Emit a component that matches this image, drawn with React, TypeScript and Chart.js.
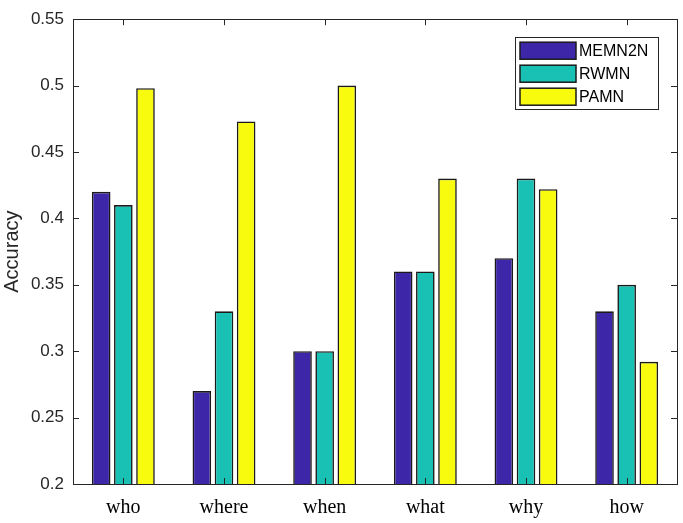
import { useEffect, useRef } from "react";
import { Chart, registerables } from "chart.js";

Chart.register(...registerables);

const categories = ["who", "where", "when", "what", "why", "how"];
const memn2n = [0.42, 0.27, 0.3, 0.36, 0.37, 0.33];
const rwmn = [0.41, 0.33, 0.3, 0.36, 0.43, 0.35];
const pamn = [0.498, 0.473, 0.5, 0.43, 0.422, 0.292];

const AXIS = "#262626";

// MATLAB style box: mirrored inward ticks on all four sides
const boxTicks = {
  id: "boxTicks",
  afterDatasetsDraw(chart: Chart) {
    const { ctx, chartArea: a } = chart;
    const x = chart.scales.x;
    const y = chart.scales.y;
    const len = 6;
    ctx.save();
    ctx.strokeStyle = AXIS;
    ctx.lineWidth = 1;
    ctx.beginPath();
    x.ticks.forEach((_, i) => {
      const px = Math.round(x.getPixelForTick(i)) + 0.5;
      ctx.moveTo(px, a.bottom);
      ctx.lineTo(px, a.bottom - len);
      ctx.moveTo(px, a.top);
      ctx.lineTo(px, a.top + len);
    });
    y.ticks.forEach((t) => {
      const py = Math.round(y.getPixelForValue(t.value)) + 0.5;
      ctx.moveTo(a.left, py);
      ctx.lineTo(a.left + len, py);
      ctx.moveTo(a.right, py);
      ctx.lineTo(a.right - len, py);
    });
    ctx.stroke();
    ctx.strokeRect(
      Math.round(a.left) + 0.5,
      Math.round(a.top) + 0.5,
      Math.round(a.right - a.left),
      Math.round(a.bottom - a.top)
    );
    ctx.restore();
  },
};

const boxLegend = {
  id: "boxLegend",
  afterDraw(chart: Chart) {
    const { ctx, chartArea: a } = chart;
    const w = 143;
    const h = 72;
    const left = a.right - 19 - w;
    const top = a.top + 18;
    ctx.save();
    ctx.fillStyle = "#ffffff";
    ctx.fillRect(left, top, w, h);
    ctx.strokeStyle = AXIS;
    ctx.lineWidth = 1;
    ctx.strokeRect(Math.round(left) + 0.5, Math.round(top) + 0.5, w, h);
    ctx.font = "16px 'Liberation Sans', Arial, sans-serif";
    ctx.textBaseline = "middle";
    chart.data.datasets.forEach((ds, i) => {
      const py = top + 5 + i * 23;
      ctx.fillStyle = ds.backgroundColor as string;
      ctx.fillRect(left + 5, py, 56, 17);
      ctx.strokeStyle = "#1a1a1a";
      ctx.lineWidth = 1.5;
      ctx.strokeRect(left + 5, py, 56, 17);
      ctx.fillStyle = "#000000";
      ctx.fillText(ds.label as string, left + 64, py + 9);
    });
    ctx.restore();
  },
};

export default function App() {
  const canvasRef = useRef<HTMLCanvasElement>(null);
  const chartRef = useRef<Chart | null>(null);

  useEffect(() => {
    document.body.style.margin = "0";
    if (!canvasRef.current) return;
    if (chartRef.current) chartRef.current.destroy();

    const bar = (label: string, data: number[], color: string) => ({
      label,
      data,
      backgroundColor: color,
      borderColor: "#1a1a1a",
      borderWidth: 1.6,
      borderSkipped: false as const,
      categoryPercentage: 0.66,
      barPercentage: 0.84,
    });

    chartRef.current = new Chart(canvasRef.current, {
      type: "bar",
      data: {
        labels: categories,
        datasets: [
          bar("MEMN2N", memn2n, "#3e26a8"),
          bar("RWMN", rwmn, "#19c0b4"),
          bar("PAMN", pamn, "#f9fb0e"),
        ],
      },
      options: {
        animation: false,
        responsive: false,
        layout: { padding: { top: 8, right: 6, left: 0, bottom: 0 } },
        plugins: {
          legend: { display: false },
          tooltip: { enabled: false },
        },
        scales: {
          x: {
            grid: { display: false, drawTicks: false },
            border: { display: false },
            ticks: {
              color: "#000000",
              padding: 12,
              font: { family: "'Liberation Serif', 'Times New Roman', serif", size: 20 },
            },
            afterFit: (s) => {
              s.height = 39;
            },
          },
          y: {
            min: 0.2,
            max: 0.55,
            grid: { display: false, drawTicks: false },
            border: { display: false },
            ticks: {
              stepSize: 0.05,
              color: AXIS,
              padding: 9,
              font: { family: "'Liberation Sans', Arial, sans-serif", size: 17 },
              callback: (v) => String(Number(Number(v).toFixed(2))),
            },
            title: {
              display: true,
              text: "Accuracy",
              color: AXIS,
              padding: { top: 0, bottom: 0 },
              font: { family: "'Liberation Sans', Arial, sans-serif", size: 20 },
            },
            afterFit: (s) => {
              s.width = 73;
            },
          },
        },
      },
      plugins: [boxTicks, boxLegend],
    });

    return () => {
      chartRef.current?.destroy();
      chartRef.current = null;
    };
  }, []);

  return (
    <div style={{ width: 683, height: 523, background: "#ffffff" }}>
      <canvas ref={canvasRef} width={683} height={523} />
    </div>
  );
}
